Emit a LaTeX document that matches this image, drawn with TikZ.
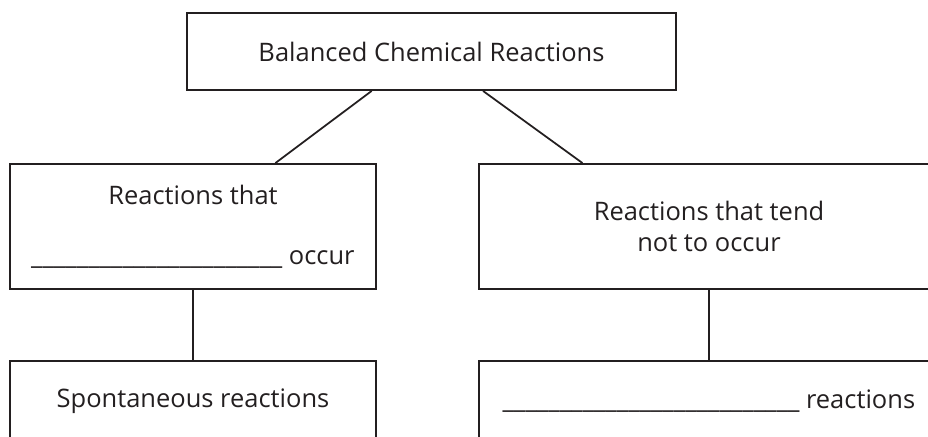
\documentclass[tikz,border=0pt]{standalone}
\usepackage{fontspec}
\setmainfont{Open Sans}
\usetikzlibrary{positioning,calc}
\definecolor{ink}{HTML}{231F20}
\newcommand{\blankline}[1]{\foreach \k in {1,...,#1}{\_}}

\begin{document}
\begin{tikzpicture}[
            x=0.02cm,y=-0.02cm,
            box/.style={
              draw=ink,
              line width=1.1pt,
              rectangle,
              align=center,
              text=ink,
              font=\fontsize{14.5}{17.5}\selectfont
              },
            link/.style={
              draw=ink,
              line width=1pt
              }
            ]
            \useasboundingbox (0,0) rectangle (928,436);
            \clip (0,0) rectangle (928,436);

            \node[box,minimum width=9.78cm,minimum height=1.54cm] (top) at (431.5,51.5) {Balanced Chemical Reactions};
            \node[box,minimum width=7.32cm,minimum height=2.5cm] (yes) at (193,226.5)
              {Reactions that\\[0.58cm] \blankline{22} occur};
            \node[box,minimum width=9.2cm,minimum height=2.5cm] (no) at (709,226.5)
              {Reactions that tend\\[0.02cm] not to occur};
            \node[box,minimum width=7.32cm,minimum height=1.6cm] (spont) at (193,401) {Spontaneous reactions};
            \node[box,minimum width=9.2cm,minimum height=1.6cm] (nonspont) at (709,401) {\blankline{26} reactions};

            \draw[link] ($(top.south west)!0.378!(top.south east)$) -- ($(yes.north west)!0.724!(yes.north east)$);
            \draw[link] ($(top.south west)!0.605!(top.south east)$) -- ($(no.north west)!0.226!(no.north east)$);
            \foreach \up/\down in {yes/spont,no/nonspont}
              \draw[link] (\up) -- (\down);
        \end{tikzpicture}
\end{document}
